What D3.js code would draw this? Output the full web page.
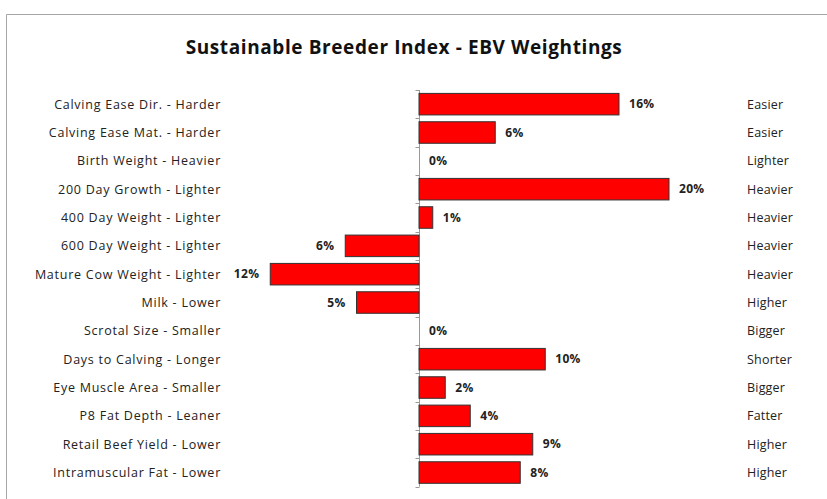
<!DOCTYPE html>
<html>
<head>
<meta charset="utf-8">
<script src="https://cdn.jsdelivr.net/npm/d3@7"></script>
<style>
	body { margin: 0; background: #fff; }
	svg { display: block; font-family: 'Open Sans', sans-serif; }
</style>
</head>
<body>
<svg id="chart" width="827" height="499"></svg>
<script>
// EBV traits, weightings (%), and the "good" direction shown on the right
const traits = [
	'Calving Ease Dir. - Harder',
	'Calving Ease Mat. - Harder',
	'Birth Weight - Heavier',
	'200 Day Growth - Lighter',
	'400 Day Weight - Lighter',
	'600 Day Weight - Lighter',
	'Mature Cow Weight - Lighter',
	'Milk - Lower',
	'Scrotal Size - Smaller',
	'Days to Calving - Longer',
	'Eye Muscle Area - Smaller',
	'P8 Fat Depth - Leaner',
	'Retail Beef Yield - Lower',
	'Intramuscular Fat - Lower',
];
const weightings = [16, 6.1, 0, 20, 1.1, -5.9, -11.9, -5, 0, 10.1, 2.1, 4.1, 9.1, 8.1];
const directions = [
	'Easier', 'Easier', 'Lighter', 'Heavier', 'Heavier', 'Heavier', 'Heavier',
	'Higher', 'Bigger', 'Shorter', 'Bigger', 'Fatter', 'Higher', 'Higher',
];

const rows = traits.map((t, i) => ({ trait: t, value: weightings[i], dir: directions[i] }));

const svg = d3.select('#chart');

// outer chart frame (only top and left edges are visible in the picture)
svg.append('path')
	.attr('d', 'M6.5,499 V14.5 H827')
	.attr('fill', 'none')
	.attr('stroke', '#a6a6a6');

svg.append('text')
	.attr('x', 404)
	.attr('y', 54)
	.attr('text-anchor', 'middle')
	.attr('font-size', 19)
	.attr('font-weight', 'bold')
	.attr('letter-spacing', 0.6)
	.attr('fill', '#111')
	.text('Sustainable Breeder Index  - EBV Weightings');

const x = d3.scaleLinear().domain([-12, 20]).range([269, 669]);
const y = d3
	.scaleBand()
	.domain(traits)
	.range([90, 486.7])
	.paddingInner(0.24)
	.paddingOuter(0.12);

const x0 = Math.round(x(0)) + 0.5;
const step = y.step();

// value axis at zero with ticks between categories
const axis = svg.append('g').attr('stroke', '#999');
axis.append('line')
	.attr('x1', x0).attr('x2', x0)
	.attr('y1', 90).attr('y2', 486.7);
axis.selectAll('.tick')
	.data(d3.range(traits.length + 1))
	.join('line')
	.attr('class', 'tick')
	.attr('x1', x0 - 4).attr('x2', x0)
	.attr('y1', (i) => Math.round(90 + i * step) + 0.5)
	.attr('y2', (i) => Math.round(90 + i * step) + 0.5);

svg.append('g')
	.selectAll('rect')
	.data(rows.filter((d) => d.value !== 0))
	.join('rect')
	.attr('x', (d) => Math.min(x(d.value), x(0)))
	.attr('y', (d) => y(d.trait))
	.attr('width', (d) => Math.abs(x(d.value) - x(0)))
	.attr('height', y.bandwidth())
	.attr('fill', '#ff0000')
	.attr('stroke', '#333')
	.attr('stroke-width', 1);

// value labels
svg.append('g')
	.selectAll('text')
	.data(rows)
	.join('text')
	.attr('x', (d) => (d.value < 0 ? x(d.value) - 11 : x(d.value) + 10))
	.attr('y', (d) => y(d.trait) + y.bandwidth() / 2)
	.attr('dy', '0.35em')
	.attr('text-anchor', (d) => (d.value < 0 ? 'end' : 'start'))
	.attr('font-size', 12)
	.attr('font-weight', 'bold')
	.attr('letter-spacing', 0.3)
	.attr('fill', '#222')
	.text((d) => Math.round(Math.abs(d.value)) + '%');

// trait labels on the left
svg.append('g')
	.selectAll('text')
	.data(rows)
	.join('text')
	.attr('x', 221)
	.attr('y', (d) => y(d.trait) + y.bandwidth() / 2)
	.attr('dy', '0.35em')
	.attr('text-anchor', 'end')
	.attr('font-size', 12.5)
	.attr('letter-spacing', 0.75)
	.attr('fill', '#222')
	.text((d) => d.trait);

// direction labels on the right
svg.append('g')
	.selectAll('text')
	.data(rows)
	.join('text')
	.attr('x', 747)
	.attr('y', (d) => y(d.trait) + y.bandwidth() / 2)
	.attr('dy', '0.35em')
	.attr('font-size', 12.5)
	.attr('letter-spacing', 0.2)
	.attr('fill', '#222')
	.text((d) => d.dir);
</script>
</body>
</html>
